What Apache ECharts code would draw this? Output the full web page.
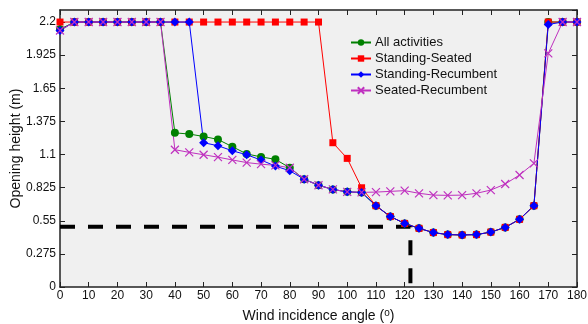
<!DOCTYPE html>
<html>
<head>
<meta charset="utf-8">
<script src="https://cdn.jsdelivr.net/npm/echarts@6/dist/echarts.min.js"></script>
<style>
    html, body {margin: 0; padding: 0; background: #fff;}
    #chart {width: 588px; height: 324px;}
</style>
</head>
<body>
<div id="chart"></div>
<script>
var angles = [0, 5, 10, 15, 20, 25, 30, 35, 40, 45, 50, 55, 60, 65, 70, 75, 80, 85, 90,
    95, 100, 105, 110, 115, 120, 125, 130, 135, 140, 145, 150, 155, 160, 165, 170, 175, 180];

var allActivities = [2.14, 2.2, 2.2, 2.2, 2.2, 2.2, 2.2, 2.2, 1.28, 1.27, 1.25, 1.225, 1.165, 1.105, 1.08, 1.06, 0.99, 0.895, 0.845,
    0.81, 0.79, 0.785, 0.675, 0.585, 0.528, 0.487, 0.452, 0.435, 0.432, 0.435, 0.456, 0.495, 0.562, 0.675, 2.2, 2.2, 2.2];
var standingSeated = [2.2, 2.2, 2.2, 2.2, 2.2, 2.2, 2.2, 2.2, 2.2, 2.2, 2.2, 2.2, 2.2, 2.2, 2.2, 2.2, 2.2, 2.2, 2.2,
    1.198, 1.068, 0.824, 0.675, 0.585, 0.528, 0.487, 0.452, 0.435, 0.432, 0.435, 0.456, 0.495, 0.562, 0.675, 2.2, 2.2, 2.2];
var standingRecumbent = [2.13, 2.2, 2.2, 2.2, 2.2, 2.2, 2.2, 2.2, 2.2, 2.2, 1.198, 1.173, 1.131, 1.098, 1.054, 1.004, 0.965, 0.895, 0.845,
    0.81, 0.79, 0.785, 0.675, 0.585, 0.528, 0.487, 0.452, 0.435, 0.432, 0.435, 0.456, 0.495, 0.562, 0.675, 2.18, 2.2, 2.2];
var seatedRecumbent = [2.13, 2.2, 2.2, 2.2, 2.2, 2.2, 2.2, 2.2, 1.14, 1.118, 1.098, 1.078, 1.055, 1.033, 1.02, 1.01, 0.99, 0.895, 0.845,
    0.81, 0.79, 0.786, 0.788, 0.794, 0.8, 0.778, 0.763, 0.761, 0.763, 0.778, 0.805, 0.855, 0.93, 1.027, 1.94, 2.2, 2.2];

// dashed guide: opening height 0.5 m reached at ~122 deg
var guideX = [0, 122, 122];
var guideY = [0.5, 0.5, 0];

var yTicks = [0, 0.275, 0.55, 0.825, 1.1, 1.375, 1.65, 1.925, 2.2];

function pairs(xs, ys) {
    return xs.map(function (x, i) { return [x, ys[i]]; });
}

var chart = echarts.init(document.getElementById('chart'));
var font = 'Liberation Sans, Arial, sans-serif';
var axisColor = '#222';

function lineSeries(name, values, color, symbol, size) {
    return {
        name: name,
        type: 'line',
        data: pairs(angles, values),
        symbol: symbol,
        symbolSize: size,
        lineStyle: {color: color, width: 1},
        itemStyle: {color: color},
        emphasis: {disabled: true},
        animation: false
    };
}

var cross = lineSeries('Seated-Recumbent', seatedRecumbent, '#bf30bf', 'path://M0,0L10,10M10,0L0,10', 8);
cross.itemStyle = {color: '#bf30bf', borderColor: '#bf30bf', borderWidth: 1.2};

var option = {
    animation: false,
    grid: {
        left: 60, right: 11, top: 10, bottom: 37,
        outerBoundsMode: 'none',
        containLabel: false,
        show: true, backgroundColor: '#f0f0f0', borderWidth: 0
    },
    legend: {
        orient: 'vertical',
        left: 350,
        top: 36,
        padding: 0,
        itemWidth: 20,
        itemHeight: 8,
        itemGap: 3,
        textStyle: {fontFamily: font, fontSize: 13, color: '#111', padding: [0, 0, 0, -1]},
        data: ['All activities', 'Standing-Seated', 'Standing-Recumbent', 'Seated-Recumbent']
    },
    xAxis: [{
        type: 'value',
        min: 0, max: 180, interval: 10,
        name: 'Wind incidence angle ({sup|o})',
        nameLocation: 'middle',
        nameGap: 21,
        nameMoveOverlap: false,
        nameTextStyle: {
            fontFamily: font, fontSize: 14, color: '#111',
            rich: {sup: {fontFamily: font, fontSize: 10, color: '#111', verticalAlign: 'top', padding: [0, 0, 7, 0]}}
        },
        axisLine: {onZero: false, lineStyle: {color: axisColor, width: 1.5}},
        axisTick: {inside: true, length: 5, lineStyle: {color: axisColor}},
        axisLabel: {fontFamily: font, fontSize: 12, color: '#111', margin: 3},
        splitLine: {show: false}
    }, {
        type: 'value', position: 'top',
        min: 0, max: 180, interval: 10,
        axisLine: {show: true, onZero: false, lineStyle: {color: axisColor, width: 1.5}},
        axisTick: {show: true, inside: true, length: 5, lineStyle: {color: axisColor}},
        axisLabel: {show: false},
        splitLine: {show: false}
    }],
    yAxis: [{
        type: 'value',
        min: 0, max: 2.3, interval: 0.275,
        name: 'Opening height (m)',
        nameLocation: 'middle',
        nameGap: 37,
        nameMoveOverlap: false,
        nameTextStyle: {fontFamily: font, fontSize: 14, color: '#111'},
        axisLine: {show: true, onZero: false, lineStyle: {color: axisColor, width: 1.5}},
        axisTick: {inside: true, length: 5, lineStyle: {color: axisColor}},
        axisLabel: {
            fontFamily: font, fontSize: 12, color: '#111', margin: 4,
            showMaxLabel: false,
            formatter: function (v) {
                var t = yTicks.filter(function (k) { return Math.abs(k - v) < 1e-6; });
                return t.length ? String(t[0]) : '';
            }
        },
        splitLine: {show: false}
    }, {
        type: 'value', position: 'right',
        min: 0, max: 2.3, interval: 0.275,
        axisLine: {show: true, onZero: false, lineStyle: {color: axisColor, width: 1.5}},
        axisTick: {show: true, inside: true, length: 5, lineStyle: {color: axisColor}},
        axisLabel: {show: false},
        splitLine: {show: false}
    }],
    series: [
        {
            name: 'guide',
            type: 'line',
            data: pairs(guideX, guideY),
            symbol: 'none',
            lineStyle: {color: '#000', width: 4, type: [15, 13]},
            silent: true,
            z: 1
        },
        lineSeries('All activities', allActivities, '#008000', 'circle', 8),
        lineSeries('Standing-Seated', standingSeated, '#ff0000', 'rect', 7),
        lineSeries('Standing-Recumbent', standingRecumbent, '#0000ff', 'diamond', 9),
        cross
    ]
};

chart.setOption(option);
</script>
</body>
</html>
